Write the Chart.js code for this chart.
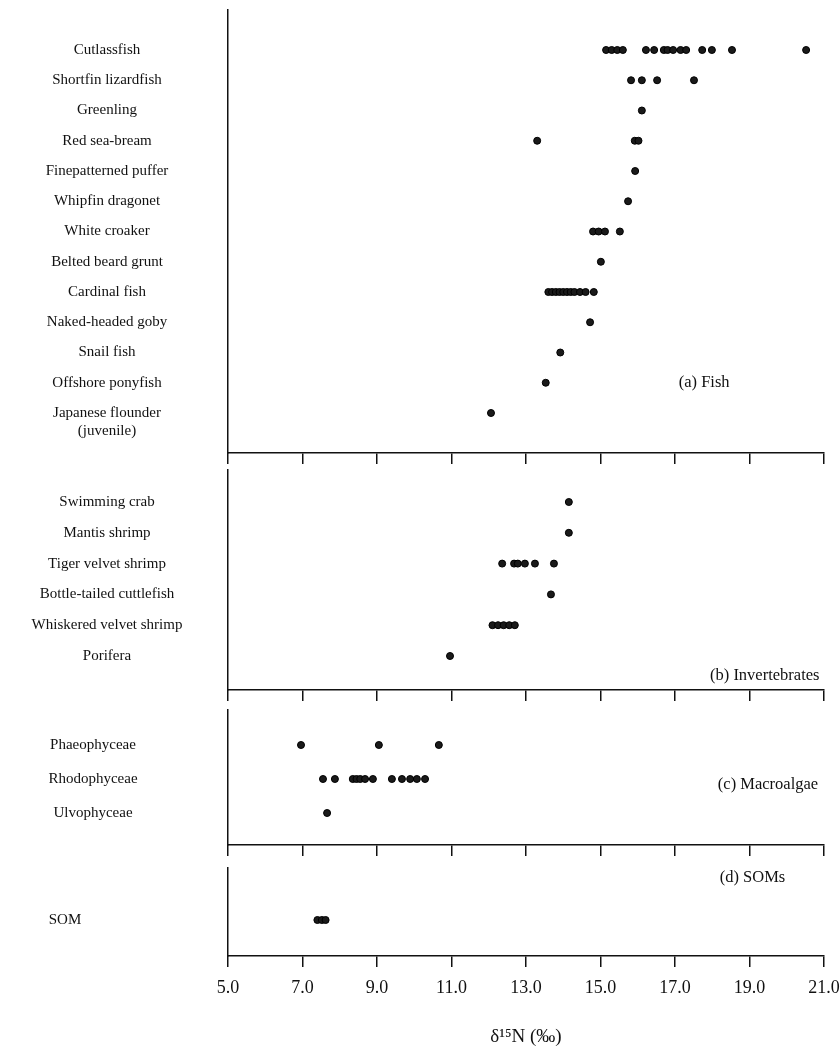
<!DOCTYPE html>
<html>
<head>
<meta charset="utf-8">
<script src="https://cdn.jsdelivr.net/npm/chart.js@4.4.0/dist/chart.umd.min.js"></script>
<style>
  html, body { margin: 0; padding: 0; background: #fff; }
  #wrap { position: relative; width: 840px; height: 1056px; }
  #wrap canvas { position: absolute; left: 0; }
</style>
</head>
<body>
<div id="wrap">
  <canvas id="fishChart"></canvas>
  <canvas id="invChart"></canvas>
  <canvas id="algaeChart"></canvas>
  <canvas id="somChart"></canvas>
</div>
<script>
// --- data (δ15N, ‰) ---
const xTicks = [5, 7, 9, 11, 13, 15, 17, 19, 21];

const fishSpecies = ['Cutlassfish', 'Shortfin lizardfish', 'Greenling', 'Red sea-bream',
  'Finepatterned puffer', 'Whipfin dragonet', 'White croaker', 'Belted beard grunt',
  'Cardinal fish', 'Naked-headed goby', 'Snail fish', 'Offshore ponyfish',
  ['Japanese flounder', '(juvenile)']];
const fishValues = [
  [15.15, 15.3, 15.45, 15.6, 16.22, 16.44, 16.7, 16.8, 16.95, 17.15, 17.3, 17.73, 17.99, 18.53, 20.52],
  [15.82, 16.11, 16.52, 17.51],
  [16.11],
  [13.3, 15.92, 16.02],
  [15.93],
  [15.74],
  [14.8, 14.95, 15.12, 15.52],
  [15.01],
  [13.6, 13.7, 13.8, 13.9, 14.0, 14.1, 14.2, 14.3, 14.45, 14.6, 14.82],
  [14.72],
  [13.92],
  [13.53],
  [12.06]
];

const invSpecies = ['Swimming crab', 'Mantis shrimp', 'Tiger velvet shrimp',
  'Bottle-tailed cuttlefish', 'Whiskered velvet shrimp', 'Porifera'];
const invValues = [
  [14.15],
  [14.15],
  [12.36, 12.68, 12.78, 12.97, 13.24, 13.75],
  [13.67],
  [12.1, 12.25, 12.4, 12.55, 12.7],
  [10.96]
];

const algaeGroups = ['Phaeophyceae', 'Rhodophyceae', 'Ulvophyceae'];
const algaeValues = [
  [6.96, 9.05, 10.66],
  [7.55, 7.87, 8.35, 8.45, 8.55, 8.68, 8.89, 9.4, 9.67, 9.89, 10.07, 10.29],
  [7.66]
];

const somGroups = ['SOM'];
const somValues = [[7.4, 7.52, 7.62]];

// --- layout ---
const AXIS_X = 228;
const FONT = '"Liberation Serif", "DejaVu Serif", serif';
const INK = '#111';
const LABEL_SIZE = 15;

const panels = [
  { id: 'fishChart', top: 0, areaTop: 10, areaBottom: 453, row0: 50, step: 30.25,
    labels: fishSpecies, values: fishValues, center: 107, tag: '(a) Fish', tagX: 17.1, tagY: 11.0 },
  { id: 'invChart', top: 460, areaTop: 470, areaBottom: 690, row0: 502, step: 30.8,
    labels: invSpecies, values: invValues, center: 107, tag: '(b) Invertebrates', tagX: 17.94, tagY: 5.65 },
  { id: 'algaeChart', top: 700, areaTop: 710, areaBottom: 845, row0: 745, step: 34,
    labels: algaeGroups, values: algaeValues, center: 93, tag: '(c) Macroalgae', tagX: 18.15, tagY: 1.18 },
  { id: 'somChart', top: 858, areaTop: 868, areaBottom: 956, row0: 920, step: 30,
    labels: somGroups, values: somValues, center: 65, tag: '(d) SOMs', tagX: 18.2, tagY: -1.4, last: true }
];

const measureCtx = document.createElement('canvas').getContext('2d');
function widestLabel(labels, font) {
  measureCtx.font = font;
  let w = 0;
  labels.forEach(l => {
    [].concat(l).forEach(line => { w = Math.max(w, measureCtx.measureText(line).width); });
  });
  return w;
}

const panelTag = {
  id: 'panelTag',
  afterDraw(chart, args, opts) {
    if (!opts.text) return;
    const { ctx, scales } = chart;
    ctx.save();
    ctx.font = '16.5px ' + FONT;
    ctx.fillStyle = INK;
    ctx.textAlign = 'left';
    ctx.textBaseline = 'middle';
    ctx.fillText(opts.text, scales.x.getPixelForValue(opts.x), scales.y.getPixelForValue(opts.y));
    ctx.restore();
  }
};

panels.forEach(p => {
  const canvas = document.getElementById(p.id);
  const xAxisH = p.last ? (1056 - p.areaBottom) : 18;
  const height = p.areaBottom + xAxisH - p.top;
  canvas.style.top = p.top + 'px';
  canvas.style.width = '840px';
  canvas.style.height = height + 'px';
  canvas.width = 840;
  canvas.height = height;

  const points = [];
  p.values.forEach((vals, i) => vals.forEach(v => points.push({ x: v, y: i })));

  const pad = AXIS_X - p.center - widestLabel(p.labels, LABEL_SIZE + 'px ' + FONT) / 2;
  // a two-line label starts on its row and hangs below it
  const lineH = LABEL_SIZE * 1.2;
  const tickShift = l => ([].concat(l).length - 1) * lineH / 2 / p.step;

  new Chart(canvas.getContext('2d'), {
    type: 'scatter',
    data: {
      datasets: [{
        data: points,
        pointRadius: 3.5,
        pointHoverRadius: 3.5,
        pointBackgroundColor: '#1a1a1a',
        pointBorderColor: '#000',
        pointBorderWidth: 1
      }]
    },
    options: {
      responsive: false,
      animation: false,
      events: [],
      layout: { padding: { top: p.areaTop - p.top, left: 0, right: 16, bottom: 0 } },
      plugins: {
        legend: { display: false },
        tooltip: { enabled: false },
        panelTag: { text: p.tag, x: p.tagX, y: p.tagY }
      },
      scales: {
        x: {
          type: 'linear',
          min: 5,
          max: 21,
          afterBuildTicks: s => { s.ticks = xTicks.map(v => ({ value: v })); },
          ticks: {
            display: !!p.last,
            autoSkip: false,
            maxRotation: 0,
            padding: 10,
            color: INK,
            font: { family: FONT, size: 18 },
            callback: v => v.toFixed(1)
          },
          grid: { display: true, drawOnChartArea: false, drawTicks: true, tickLength: 11, color: INK, lineWidth: 1.5 },
          border: { display: true, color: INK, width: 1.5 },
          title: {
            display: !!p.last,
            text: 'δ¹⁵N (‰)',
            color: INK,
            font: { family: FONT, size: 19 },
            padding: { top: 0, bottom: 8 }
          },
          afterFit: s => { s.height = xAxisH; s.paddingLeft = 0; s.paddingRight = 0; }
        },
        y: {
          type: 'linear',
          reverse: true,
          min: -(p.row0 - p.areaTop) / p.step,
          max: (p.areaBottom - p.row0) / p.step,
          afterBuildTicks: s => { s.ticks = p.labels.map((l, i) => ({ value: i + tickShift(l) })); },
          ticks: {
            autoSkip: false,
            crossAlign: 'center',
            padding: pad,
            color: INK,
            font: { family: FONT, size: LABEL_SIZE },
            callback: v => p.labels[Math.round(v)]
          },
          grid: { display: false, drawTicks: false },
          border: { display: true, color: INK, width: 1.5 },
          afterFit: s => { s.width = AXIS_X; s.paddingTop = 0; s.paddingBottom = 0; }
        }
      }
    },
    plugins: [panelTag]
  });
});
</script>
</body>
</html>
